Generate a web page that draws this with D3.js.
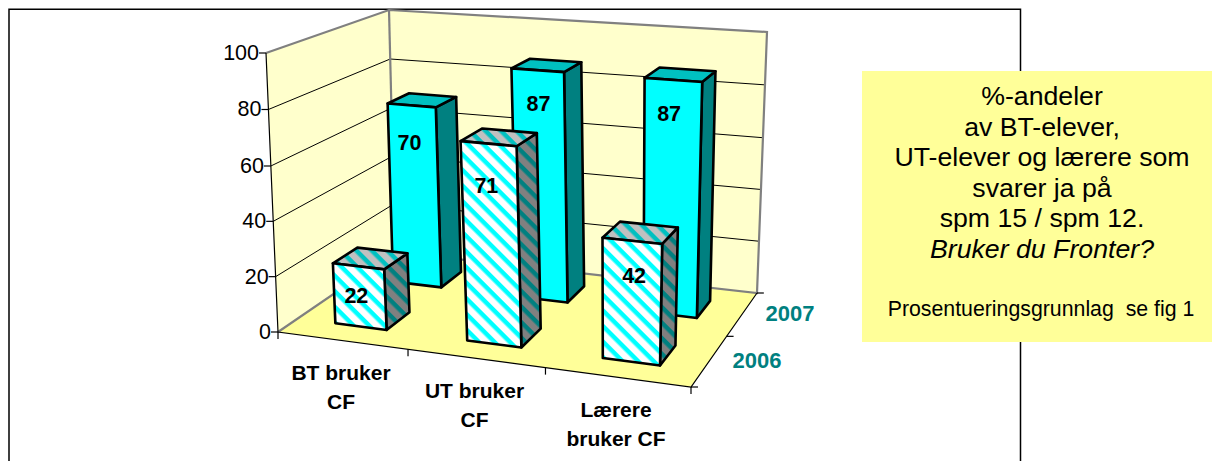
<!DOCTYPE html>
<html>
<head>
<meta charset="utf-8">
<script src="https://cdnjs.cloudflare.com/ajax/libs/d3/7.8.5/d3.min.js"></script>
<style>
  html, body { margin: 0; padding: 0; background: #fff; }
  svg { display: block; font-family: "Liberation Sans", Arial, sans-serif; }
</style>
</head>
<body>
<div id="chart"></div>
<script>
var categories = [["BT bruker", "CF"], ["UT bruker", "CF"], ["Lærere", "bruker CF"]];
var years = ["2006", "2007"];
var values2006 = [22, 71, 42];
var values2007 = [70, 87, 87];
var yTicks = [0, 20, 40, 60, 80, 100];
var boxLines = ["%-andeler", "av BT-elever,", "UT-elever og lærere som", "svarer ja på", "spm 15 / spm 12."];
var boxQuestion = "Bruker du Fronter?";
var boxNote = "Prosentueringsgrunnlag  se fig 1";

var width = 1212, height = 461;

var svg = d3.select("#chart").append("svg")
  .attr("width", width).attr("height", height);

// square -> quad homography, corners in order (u,w) = 00, 10, 11, 01
function homography(p0, p1, p2, p3) {
  var dx1 = p1[0] - p2[0], dx2 = p3[0] - p2[0], sx = p0[0] - p1[0] + p2[0] - p3[0];
  var dy1 = p1[1] - p2[1], dy2 = p3[1] - p2[1], sy = p0[1] - p1[1] + p2[1] - p3[1];
  var den = dx1 * dy2 - dx2 * dy1;
  var g = (sx * dy2 - dx2 * sy) / den, h = (dx1 * sy - sx * dy1) / den;
  var a = p1[0] - p0[0] + g * p1[0], b = p3[0] - p0[0] + h * p3[0];
  var d = p1[1] - p0[1] + g * p1[1], e = p3[1] - p0[1] + h * p3[1];
  return function (u, w) {
    var q = g * u + h * w + 1;
    return [(a * u + b * w + p0[0]) / q, (d * u + e * w + p0[1]) / q];
  };
}

var floorAt = homography([278, 332], [691, 387], [757, 293], [395, 252]);
var roofAt = homography([266, 53], [701, 87], [767, 32], [389, 10]);

// slight bend so the gridlines land where the picture has them
var y = d3.scaleLinear().domain([0, 60, 100]).range([0, 0.595, 1]);
var x = d3.scaleLinear().domain([0, 1, 2]).range([0.167, 0.506, 0.836]);
var barWidth = 0.134;
var z = d3.scaleBand().domain(years).range([0, 1]).paddingInner(0.6).paddingOuter(0.3);

function project(u, w, v) {
  var a = floorAt(u, w), b = roofAt(u, w), t = y(v);
  return [a[0] + (b[0] - a[0]) * t, a[1] + (b[1] - a[1]) * t];
}

var line = d3.line();

// patterns for the 2006 series
var defs = svg.append("defs");
function stripes(id, bg, fg) {
  var p = defs.append("pattern").attr("id", id)
    .attr("patternUnits", "userSpaceOnUse")
    .attr("width", 11).attr("height", 11)
    .attr("patternTransform", "rotate(45)");
  p.append("rect").attr("width", 11).attr("height", 11).attr("fill", bg);
  p.append("rect").attr("width", 11).attr("height", 4.5).attr("fill", fg);
}
stripes("hatchFront", "#ffffff", "#00ffff");
stripes("hatchTop", "#c0c0c0", "#00c0c0");
stripes("hatchSide", "#808080", "#008080");

// outer frame
svg.append("path").attr("d", "M9,461V9.2H1020.5V461")
  .attr("fill", "none").attr("stroke", "#000").attr("stroke-width", 1.5);

// walls and floor
var walls = svg.append("g");
walls.append("path").attr("d", line([project(0, 0, 0), project(0, 0, 100), project(0, 1, 100), project(0, 1, 0)]) + "Z")
  .attr("fill", "#ffffcc");
walls.append("path").attr("d", line([project(0, 1, 0), project(0, 1, 100), project(1, 1, 100), project(1, 1, 0)]) + "Z")
  .attr("fill", "#ffffcc");
walls.append("path").attr("d", line([project(0, 0, 0), project(1, 0, 0), project(1, 1, 0), project(0, 1, 0)]) + "Z")
  .attr("fill", "#ffff99");

walls.selectAll(".grid").data(yTicks.slice(1, -1)).enter().append("path")
  .attr("class", "grid")
  .attr("d", function (d) { return line([project(0, 0, d), project(0, 1, d), project(1, 1, d)]); })
  .attr("fill", "none").attr("stroke", "#000").attr("stroke-width", 1);

// wall outline
walls.append("path")
  .attr("d", line([project(0, 0, 0), project(0, 1, 0), project(1, 1, 0), project(1, 1, 100), project(0, 1, 100), project(0, 0, 100)]))
  .attr("fill", "none").attr("stroke", "#808080").attr("stroke-width", 2.2);
walls.append("path")
  .attr("d", line([project(0, 1, 0), project(0, 1, 100)]))
  .attr("fill", "none").attr("stroke", "#808080").attr("stroke-width", 2.2);

// axis lines
var axes = svg.append("g").attr("fill", "none").attr("stroke", "#000").attr("stroke-width", 1.2);
axes.append("path").attr("d", line([project(0, 0, 100), project(0, 0, 0), project(1, 0, 0), project(1, 1, 0)]));

yTicks.forEach(function (d) {
  var p = project(0, 0, d);
  axes.append("path").attr("d", line([p, [p[0] - 7, p[1]]]));
  svg.append("text").attr("x", p[0] - 7).attr("y", p[1] + 7)
    .attr("text-anchor", "end").attr("font-size", 21.5).attr("fill", "#000").text(d);
});

// category ticks and labels
d3.range(categories.length + 1).forEach(function (i) {
  var p = project(i / categories.length, 0, 0);
  axes.append("path").attr("d", line([p, [p[0], p[1] + 7]]));
});
var catLabelX = [341, 474.5, 616], catLabelY = [380, 398, 417];
categories.forEach(function (c, i) {
  var t = svg.append("text").attr("text-anchor", "middle").attr("font-size", 21)
    .attr("font-weight", "bold").attr("fill", "#000");
  c.forEach(function (s, j) {
    t.append("tspan").attr("x", catLabelX[i]).attr("y", catLabelY[i] + j * 28.5).text(s);
  });
});

// depth ticks and year labels
d3.range(years.length + 1).forEach(function (i) {
  var p = project(1, i / years.length, 0);
  axes.append("path").attr("d", line([p, [p[0] + 7, p[1]]]));
});
var yearLabelX = [757, 790], yearLabelY = [368, 321];
years.forEach(function (s, i) {
  svg.append("text").attr("x", yearLabelX[i]).attr("y", yearLabelY[i])
    .attr("text-anchor", "middle").attr("font-size", 22).attr("font-weight", "bold")
    .attr("fill", "#008080").text(s);
});

// bars, back row first
function drawBar(g, i, year, v, fills) {
  var u0 = x(i) - barWidth / 2, u1 = x(i) + barWidth / 2;
  var w0 = z(year), w1 = w0 + z.bandwidth();
  var faces = [
    { pts: [project(u1, w0, 0), project(u1, w1, 0), project(u1, w1, v), project(u1, w0, v)], fill: fills.side },
    { pts: [project(u0, w0, v), project(u1, w0, v), project(u1, w1, v), project(u0, w1, v)], fill: fills.top },
    { pts: [project(u0, w0, 0), project(u1, w0, 0), project(u1, w0, v), project(u0, w0, v)], fill: fills.front }
  ];
  g.selectAll("path").data(faces).enter().append("path")
    .attr("d", function (f) { return line(f.pts) + "Z"; })
    .attr("fill", function (f) { return f.fill; })
    .attr("stroke", "#000").attr("stroke-width", 2.6).attr("stroke-linejoin", "round");
}

var labelDy2006 = [37, 49, 42], labelDy2007 = [45, 41, 41];
var labelDx2006 = [0, 0, 4], labelDx2007 = [0, 3, -2];
var labels = [];
[[years[1], values2007, labelDy2007, labelDx2007, { front: "#00ffff", top: "#00c0c0", side: "#008080" }],
 [years[0], values2006, labelDy2006, labelDx2006, { front: "url(#hatchFront)", top: "url(#hatchTop)", side: "url(#hatchSide)" }]
].forEach(function (s) {
  s[1].forEach(function (v, i) {
    drawBar(svg.append("g"), i, s[0], v, s[4]);
    labels.push({ p: project(x(i), z(s[0]), v), v: v, dy: s[2][i], dx: s[3][i] });
  });
});

svg.selectAll(".val").data(labels).enter().append("text").attr("class", "val")
  .attr("x", function (d) { return d.p[0] - 2 + d.dx; })
  .attr("y", function (d) { return d.p[1] + d.dy; })
  .attr("text-anchor", "middle").attr("font-size", 21.5).attr("font-weight", "bold")
  .attr("fill", "#000").text(function (d) { return d.v; });

// text box on the right
svg.append("rect").attr("x", 862).attr("y", 71).attr("width", 350).attr("height", 271).attr("fill", "#ffff99");
var boxY = d3.scalePoint().domain(d3.range(6)).range([105, 258]);
boxLines.concat([boxQuestion]).forEach(function (s, i) {
  svg.append("text").attr("x", 1042).attr("y", boxY(i))
    .attr("text-anchor", "middle").attr("font-size", 26.7).attr("fill", "#000")
    .attr("font-style", s === boxQuestion ? "italic" : "normal")
    .style("white-space", "pre").text(s);
});
svg.append("text").attr("x", 1041).attr("y", 316).attr("text-anchor", "middle")
  .attr("font-size", 21.3).attr("fill", "#000").style("white-space", "pre").text(boxNote);
</script>
</body>
</html>
